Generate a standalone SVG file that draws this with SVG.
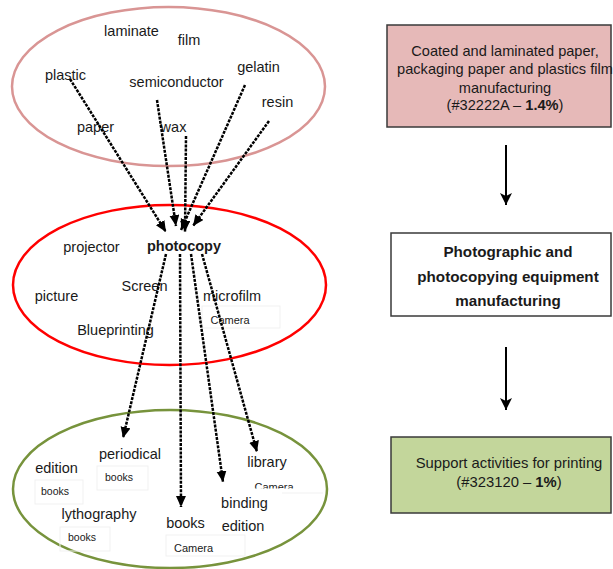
<svg xmlns="http://www.w3.org/2000/svg" width="613" height="569" viewBox="0 0 613 569">
<style>
.t{font-family:"Liberation Sans",Arial,sans-serif;font-size:14.5px;fill:#1a1a1a;text-anchor:middle}
.s{font-family:"Liberation Sans",Arial,sans-serif;font-size:10.5px;fill:#1a1a1a;text-anchor:middle}
.b{font-family:"Liberation Sans",Arial,sans-serif;font-size:14.6px;fill:#1a1a1a;text-anchor:middle}
.bb{font-weight:bold}
.fb{fill:none;stroke:#f1f1f1;stroke-width:1}
.dl{fill:none;stroke:#000;stroke-width:2.5;stroke-dasharray:3 1.2}
.sl{fill:none;stroke:#000;stroke-width:2}
.box{stroke:#3a3a3a;stroke-width:1.5}
</style>
<defs>
<marker id="ah" markerUnits="userSpaceOnUse" markerWidth="12" markerHeight="12" refX="11" refY="5" orient="auto">
<path d="M0,0 L11,5 L0,10 z" fill="#000"/>
</marker>
<marker id="ah2" markerUnits="userSpaceOnUse" markerWidth="14" markerHeight="14" refX="12" refY="6" orient="auto">
<path d="M0,0 L12,6 L0,12 L3,6 z" fill="#000"/>
</marker>
<clipPath id="cc"><rect x="240" y="470" width="60" height="18.5"/></clipPath>
</defs>
<rect width="613" height="569" fill="#fff"/>

<g id="top-group">
<ellipse cx="168.5" cy="86.5" rx="156.5" ry="79.5" fill="none" stroke="#D99594" stroke-width="2.5"/>
<text class="t" x="131.5" y="36">laminate</text>
<text class="t" x="189" y="45">film</text>
<text class="t" x="65.5" y="80">plastic</text>
<text class="t" x="176.5" y="87">semiconductor</text>
<text class="t" x="258.5" y="72">gelatin</text>
<text class="t" x="277.5" y="107">resin</text>
<text class="t" x="95.5" y="132">paper</text>
<text class="t" x="173.5" y="132">wax</text>
</g>

<g id="middle-group">
<ellipse cx="169.5" cy="285" rx="156.5" ry="80" fill="none" stroke="#FF0000" stroke-width="2.5"/>
<text class="t" x="91.5" y="252">projector</text>
<text class="t bb" x="184" y="251">photocopy</text>
<text class="t" x="56.5" y="301">picture</text>
<text class="t" x="144.5" y="291">Screen</text>
<text class="t" x="232" y="301">microfilm</text>
<rect class="fb" x="202" y="306" width="78" height="22"/>
<text class="s" x="230" y="324" style="font-size:11px">Camera</text>
<text class="t" x="115.5" y="335">Blueprinting</text>
</g>

<g id="bottom-group">
<ellipse cx="170" cy="489" rx="157" ry="79" fill="none" stroke="#77933C" stroke-width="2.5"/>
<text class="t" x="130" y="459">periodical</text>
<rect class="fb" x="97" y="466" width="51" height="24"/>
<text class="s" x="119" y="481">books</text>
<text class="t" x="56.5" y="473">edition</text>
<rect class="fb" x="35" y="480" width="48" height="24"/>
<text class="s" x="55" y="495">books</text>
<text class="t" x="99" y="519">lythography</text>
<rect class="fb" x="60" y="527" width="50" height="24"/>
<text class="s" x="82" y="541">books</text>
<text class="t" x="185.5" y="528">books</text>
<rect class="fb" x="166" y="535" width="79" height="21"/>
<text class="s" x="193.5" y="552" style="font-size:11px">Camera</text>
<text class="t" x="244.5" y="508">binding</text>
<text class="t" x="243" y="531">edition</text>
<text class="t" x="267" y="467">library</text>
<text class="s" x="274" y="491" style="font-size:11px" clip-path="url(#cc)">Camera</text>
<line class="fb" x1="282" y1="493" x2="323" y2="493"/>
</g>

<g id="box1">
<rect class="box" x="387" y="25" width="224" height="102" fill="#E6B9B8"/>
<text class="b" x="505" y="56">Coated and laminated paper,</text>
<text class="b" x="505" y="74">packaging paper and plastics film</text>
<text class="b" x="505" y="93">manufacturing</text>
<text class="b" x="505" y="110">(#32222A – <tspan class="bb">1.4%</tspan>)</text>
</g>

<g id="box2">
<rect class="box" x="391" y="233" width="220" height="83" fill="#fff"/>
<text class="b bb" x="508" y="257" style="font-size:15.2px">Photographic and</text>
<text class="b bb" x="508" y="282" style="font-size:15.2px">photocopying equipment</text>
<text class="b bb" x="508" y="306" style="font-size:15.2px">manufacturing</text>
</g>

<g id="box3">
<rect class="box" x="391" y="437" width="220" height="76" fill="#C3D69B"/>
<text class="b" x="509" y="468" style="font-size:14.8px">Support activities for printing</text>
<text class="b" x="509" y="487" style="font-size:14.8px">(#323120 – <tspan class="bb">1%</tspan>)</text>
</g>

<g id="connectors">
<line class="dl" x1="70" y1="79" x2="166" y2="232" marker-end="url(#ah)"/>
<line class="dl" x1="157" y1="100" x2="176" y2="226" marker-end="url(#ah)"/>
<line class="dl" x1="186" y1="136" x2="185" y2="232" marker-end="url(#ah)"/>
<line class="dl" x1="245" y1="85" x2="181" y2="230" marker-end="url(#ah)"/>
<line class="dl" x1="269" y1="121" x2="193" y2="226" marker-end="url(#ah)"/>
<line class="dl" x1="166" y1="254" x2="123" y2="438" marker-end="url(#ah)"/>
<line class="dl" x1="180" y1="254" x2="181" y2="507" marker-end="url(#ah)"/>
<line class="dl" x1="191" y1="254" x2="223" y2="482" marker-end="url(#ah)"/>
<line class="dl" x1="202" y1="254" x2="257" y2="452" marker-end="url(#ah)"/>
<line class="sl" x1="506" y1="145" x2="506" y2="205" marker-end="url(#ah2)"/>
<line class="sl" x1="506" y1="347" x2="506" y2="410" marker-end="url(#ah2)"/>
</g>
</svg>
